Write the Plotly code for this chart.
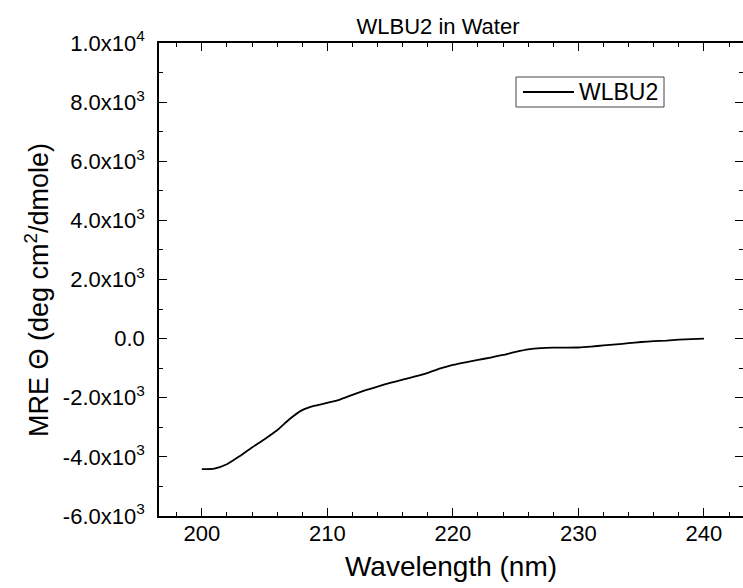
import plotly.graph_objects as go

# ---- data ----
wavelength_nm = [200, 201, 202, 203, 204, 205, 206, 207, 208, 209, 210,
                 211, 212, 213, 214, 215, 216, 217, 218, 219, 220,
                 221, 222, 223, 224, 225, 226, 227, 228, 229, 230,
                 231, 232, 233, 234, 235, 236, 237, 238, 239, 240]
mre_wlbu2 = [-4415, -4395, -4250, -3980, -3680, -3400, -3100, -2720, -2420, -2270, -2170,
             -2060, -1900, -1750, -1620, -1500, -1390, -1280, -1160, -1010, -890,
             -800, -720, -640, -550, -450, -365, -320, -305, -305, -300,
             -270, -230, -195, -155, -115, -85, -65, -35, -15, 0]
series_name = "WLBU2"
x_tick_vals = [200, 210, 220, 230, 240]
y_tick_vals = [-6000, -4000, -2000, 0, 2000, 4000, 6000, 8000, 10000]
y_tick_text = ["-6.0x10<sup>3</sup>", "-4.0x10<sup>3</sup>", "-2.0x10<sup>3</sup>", "0.0",
               "2.0x10<sup>3</sup>", "4.0x10<sup>3</sup>", "6.0x10<sup>3</sup>",
               "8.0x10<sup>3</sup>", "1.0x10<sup>4</sup>"]

FONT = "Liberation Sans, Arial, sans-serif"
W, H = 743, 588
ML, MR, MT, MB = 159, 0, 43, 72
PW, PH = W - ML - MR, H - MT - MB


def px_x(p):
    return (p - ML) / PW


def px_y(p):
    return (H - MB - p) / PH


fig = go.Figure()
fig.add_trace(go.Scatter(x=wavelength_nm, y=mre_wlbu2, mode="lines", name=series_name,
                         line=dict(color="black", width=1.8, shape="spline", smoothing=0.6),
                         showlegend=False))
# helper trace so the right-hand tick axis is drawn
fig.add_trace(go.Scatter(x=wavelength_nm, y=mre_wlbu2, mode="lines", yaxis="y2",
                         line=dict(color="rgba(0,0,0,0)", width=0), showlegend=False,
                         hoverinfo="skip"))

axis_common = dict(showgrid=False, zeroline=False, ticks="inside", tickcolor="black",
                   linecolor="black", tickwidth=1.3)

fig.update_layout(
    width=W, height=H, margin=dict(l=ML, r=MR, t=MT, b=MB),
    paper_bgcolor="white", plot_bgcolor="white",
    font=dict(family=FONT, color="black"),
    title=dict(text="WLBU2 in Water", x=438 / W, xref="container", xanchor="center",
               y=1 - 26 / H, yref="container", yanchor="middle",
               font=dict(size=22, family=FONT, color="black")),
    xaxis=dict(range=[196.59, 243.11], tickvals=x_tick_vals, ticklen=8,
               showline=True, linewidth=1.6, mirror="ticks",
               minor=dict(dtick=2, tick0=200, ticks="inside", ticklen=4, tickcolor="black"),
               tickfont=dict(size=22, family=FONT), ticklabelstandoff=-3,
               title=dict(text="Wavelength (nm)", font=dict(size=28, family=FONT), standoff=11),
               **axis_common),
    yaxis=dict(range=[-6000, 10000], tickvals=y_tick_vals, ticktext=y_tick_text, ticklen=8,
               showline=True, linewidth=1.6, mirror=False,
               minor=dict(dtick=1000, tick0=0, ticks="inside", ticklen=4, tickcolor="black"),
               tickfont=dict(size=22, family=FONT), ticklabelstandoff=8,
               **axis_common),
    yaxis2=dict(range=[-6000, 10000], overlaying="y", side="right", anchor="x",
                tickvals=y_tick_vals, ticklen=8, showline=False, showticklabels=False,
                minor=dict(dtick=1000, tick0=0, ticks="inside", ticklen=4, tickcolor="black"),
                **{k: v for k, v in axis_common.items() if k != "linecolor"}),
)

# y-axis title placed as a rotated annotation to match the reference position
fig.add_annotation(text="MRE \u0398 (deg cm<sup>2</sup>/dmole)", xref="paper", yref="paper",
                   x=px_x(37), y=px_y(290), xanchor="center", yanchor="middle",
                   textangle=-90, showarrow=False,
                   font=dict(size=27, family=FONT, color="black"))

# legend box (drawn manually to match the long line sample)
fig.add_shape(type="rect", xref="paper", yref="paper",
              x0=px_x(516), x1=px_x(664), y0=px_y(107), y1=px_y(77),
              line=dict(color="#444444", width=1), fillcolor="white", layer="above")
fig.add_shape(type="line", xref="paper", yref="paper",
              x0=px_x(523), x1=px_x(574), y0=px_y(92), y1=px_y(92),
              line=dict(color="black", width=1.8), layer="above")
fig.add_annotation(text=series_name, xref="paper", yref="paper", x=px_x(577), y=px_y(92),
                   xanchor="left", yanchor="middle", showarrow=False,
                   font=dict(size=23, family=FONT, color="black"))

fig.write_html("out.html")
